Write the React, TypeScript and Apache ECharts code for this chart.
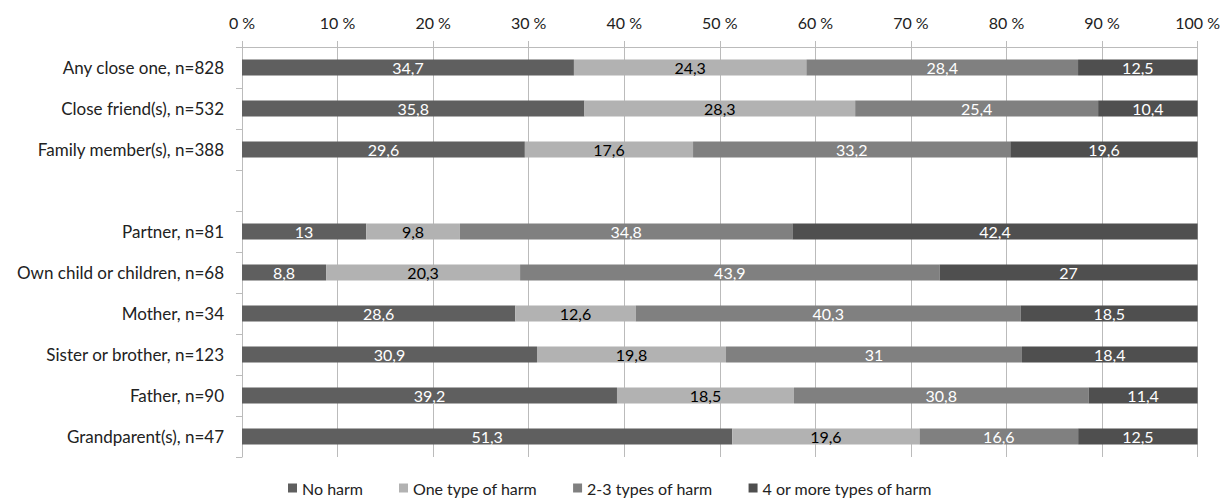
import React, { useEffect, useRef } from "react";
import * as echarts from "echarts";

const categories = [
  "Any close one, n=828",
  "Close friend(s), n=532",
  "Family member(s), n=388",
  "",
  "Partner, n=81",
  "Own child or children, n=68",
  "Mother, n=34",
  "Sister or brother, n=123",
  "Father, n=90",
  "Grandparent(s), n=47",
];

const seriesNames = ["No harm", "One type of harm", "2-3 types of harm", "4 or more types of harm"];

const noHarm = [34.7, 35.8, 29.6, null, 13, 8.8, 28.6, 30.9, 39.2, 51.3];
const oneType = [24.3, 28.3, 17.6, null, 9.8, 20.3, 12.6, 19.8, 18.5, 19.6];
const twoThree = [28.4, 25.4, 33.2, null, 34.8, 43.9, 40.3, 31, 30.8, 16.6];
const fourMore = [12.5, 10.4, 19.6, null, 42.4, 27, 18.5, 18.4, 11.4, 12.5];

const xTicks = [0, 10, 20, 30, 40, 50, 60, 70, 80, 90, 100];

const colors = ["#5f5f5f", "#b2b2b2", "#808080", "#4f4f4f"];
const labelColors = ["#ffffff", "#000000", "#ffffff", "#ffffff"];

const FONT = "Lato, 'Open Sans', sans-serif";

export default function App() {
  const ref = useRef<HTMLDivElement>(null);
  useEffect(() => {
    if (!ref.current) return;
    const chart = echarts.init(ref.current, undefined, { renderer: "svg" });
    const all = [noHarm, oneType, twoThree, fourMore];
    const sums = categories.map((_, i) =>
      all.reduce((s, arr) => s + (arr[i] == null ? 0 : (arr[i] as number)), 0)
    );
    const series = all.map((arr, si) => ({
      name: seriesNames[si],
      type: "bar",
      stack: "total",
      barWidth: 16,
      itemStyle: { color: colors[si] },
      label: {
        show: true,
        position: "inside",
        color: labelColors[si],
        fontSize: 16,
        fontFamily: FONT,
        formatter: (p: any) => String(arr[p.dataIndex]).replace(".", ","),
      },
      emphasis: { disabled: true },
      data: arr.map((v, i) => (v == null ? "-" : { value: (v / sums[i]) * 100 })),
    }));
    chart.setOption({
      animation: false,
      textStyle: { fontFamily: FONT },
      grid: { left: 242, right: 25, top: 47, bottom: 43, containLabel: false },
      legend: {
        top: 480,
        left: 288,
        padding: 0,
        icon: "rect",
        itemWidth: 9,
        itemHeight: 9,
        itemGap: 36,
        textStyle: { fontSize: 16, color: "#222", fontFamily: FONT },
        data: seriesNames,
      },
      xAxis: {
        type: "value",
        position: "top",
        min: xTicks[0],
        max: xTicks[xTicks.length - 1],
        interval: 10,
        axisLine: { show: true, lineStyle: { color: "#bbbbbb" } },
        axisTick: { show: true, length: 6, lineStyle: { color: "#bbbbbb" } },
        splitLine: { show: true, lineStyle: { color: "#bbbbbb" } },
        axisLabel: {
          fontSize: 16,
          color: "#222",
          margin: 17,
          fontFamily: FONT,
          formatter: (v: number) => `${v} %`,
        },
      },
      yAxis: {
        type: "category",
        inverse: true,
        data: categories,
        axisLine: { show: true, lineStyle: { color: "#bbbbbb" } },
        axisTick: { show: true, length: 6, alignWithLabel: false, lineStyle: { color: "#bbbbbb" } },
        axisLabel: { fontSize: 17, color: "#222", margin: 18, fontFamily: FONT },
      },
      series,
    });
    return () => chart.dispose();
  }, []);
  return (
    <div
      ref={ref}
      style={{ position: "fixed", left: 0, top: 0, width: 1223, height: 500, background: "#fff" }}
    />
  );
}
